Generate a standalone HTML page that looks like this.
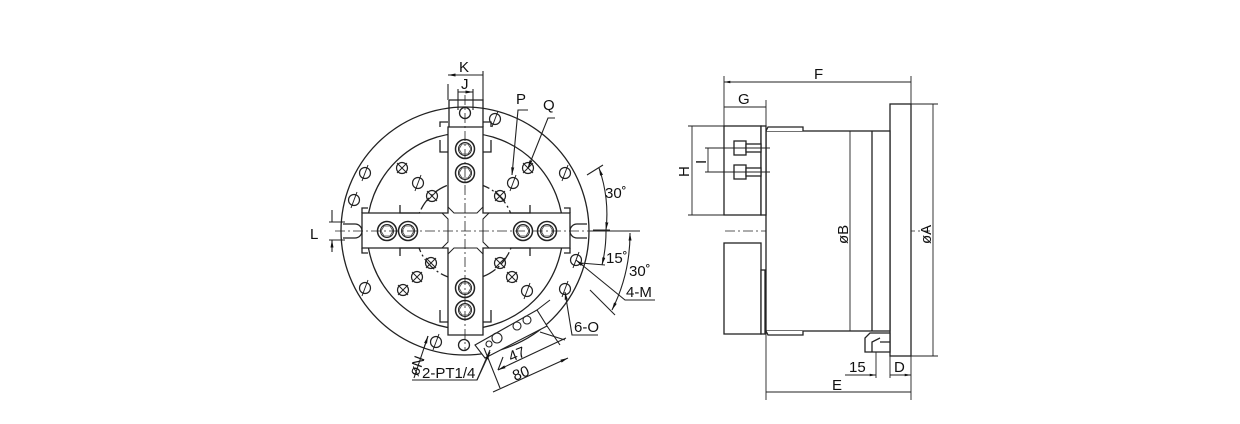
<!DOCTYPE html>
<html><head><meta charset="utf-8"><style>
html,body{margin:0;padding:0;background:#fff;}
svg{display:block}
text{font-family:"Liberation Sans",sans-serif;fill:#111;}
</style></head><body>
<svg width="1240" height="424" viewBox="0 0 1240 424" xmlns="http://www.w3.org/2000/svg">
<defs>
<marker id="a" viewBox="0 0 10 10" refX="10" refY="5" markerWidth="7" markerHeight="7" orient="auto-start-reverse"><path d="M0,3 L10,5 L0,7z" fill="#111"/></marker>
<g id="hx"><circle r="5.5" fill="none" stroke="#222" stroke-width="1.2"/><path d="M-5,-5 L5,5 M-5,5 L5,-5" stroke="#222" stroke-width="1"/></g>
<g id="hs"><circle r="5.5" fill="none" stroke="#222" stroke-width="1.2"/><path d="M-3,8 L3,-8" stroke="#222" stroke-width="1"/></g>
<g id="bt"><circle r="9.5" fill="none" stroke="#222" stroke-width="1.5"/><circle r="6.5" fill="none" stroke="#222" stroke-width="1"/><path d="M-3,-5 L3,-5 L6,0 L3,5 L-3,5 L-6,0z" fill="none" stroke="#444" stroke-width="0.8"/></g>
</defs>
<g fill="none" stroke="#222" stroke-width="1.3">
<circle cx="465" cy="231" r="124"/>
<circle cx="465" cy="231" r="98"/>
<circle cx="465" cy="231" r="49" stroke-dasharray="14,3,2,3"/>
<path d="M448,127 L483,127 L483,213 L570,213 L570,248 L483,248 L483,335 L448,335 L448,248 L362,248 L362,213 L448,213z" fill="#fff"/>
<path d="M449,100 L483,100 L483,127 M449,100 L449,127"/>
<path d="M448,207 L454,213 L477,213 L483,207 M448,254 L454,248 L477,248 L483,254 M442,213 L448,219 L448,242 L442,248 M489,213 L483,219 L483,242 L489,248" stroke-width="1"/>
<path d="M440,140 L440,152 L448,152 M491,140 L491,152 L483,152 M440,310 L440,322 L448,322 M491,310 L491,322 L483,322 M440,127 L440,122 L448,122 M483,122 L491,122 L491,127"/>
<path d="M400,205 L400,213 L420,213 M530,205 L530,213 L510,213 M400,256 L400,248 L420,248 M530,256 L530,248 L510,248"/>
<path d="M362,213 L362,208 L368,208 M570,213 L570,208 L564,208 M362,248 L362,253 L368,253 M570,248 L570,253 L564,253"/>
<path d="M343,224 L355,224 A7,7 0 0 1 355,238 L343,238 M587,224 L577,224 A7,7 0 0 0 577,238 L587,238"/>
</g>
<g stroke="#222" stroke-width="0.8" stroke-dasharray="10,3,2,3" fill="none">
<path d="M335,231 L600,231 M465,95 L465,350"/>
<path d="M725,231 L930,231"/>
</g>
<use href="#bt" x="465" y="149"/><use href="#bt" x="465" y="173"/><use href="#bt" x="465" y="288"/><use href="#bt" x="465" y="310"/>
<use href="#bt" x="387" y="231"/><use href="#bt" x="408" y="231"/><use href="#bt" x="523" y="231"/><use href="#bt" x="547" y="231"/>
<circle cx="465" cy="113" r="5.5" fill="none" stroke="#222" stroke-width="1.3"/><circle cx="464" cy="345" r="5.5" fill="none" stroke="#222" stroke-width="1.3"/>
<use href="#hs" x="365" y="173"/><use href="#hs" x="354" y="200"/><use href="#hs" x="495" y="119"/><use href="#hs" x="565" y="173"/><use href="#hs" x="576" y="260"/><use href="#hs" x="565" y="289"/><use href="#hs" x="365" y="288"/><use href="#hs" x="436" y="342"/>
<use href="#hs" x="418" y="183"/><use href="#hs" x="513" y="183"/><use href="#hs" x="527" y="291"/>
<use href="#hx" x="402" y="168"/><use href="#hx" x="432" y="196"/><use href="#hx" x="528" y="168"/><use href="#hx" x="500" y="196"/><use href="#hx" x="431" y="263"/><use href="#hx" x="417" y="277"/><use href="#hx" x="403" y="290"/><use href="#hx" x="500" y="263"/><use href="#hx" x="512" y="277"/>
<g fill="none" stroke="#222" stroke-width="1.1">
<path d="M475,345 L537,310 L547,326 L485,358z" fill="#fff"/>
<circle cx="497" cy="338" r="5"/><circle cx="517" cy="326" r="4"/><circle cx="527" cy="320" r="4"/><circle cx="489" cy="344" r="3"/>
<path d="M484,348 L500,388 M547,326 L560,345 M537,310 L550,300"/>
<path d="M498,370 L566,338 M493,392 L568,358" marker-end="url(#a)" marker-start="url(#a)"/>
<path d="M503,357 L498,370 M540,332 L565,340"/>
<path d="M448,84 L448,100 M483,71 L483,100 M458,89 L458,110 M473,89 L473,110"/>
<path d="M448,75 L483,75 M458,92 L473,92" marker-end="url(#a)" marker-start="url(#a)"/>
<path d="M329,222 L345,222 M329,240 L345,240"/>
<path d="M332,210 L332,222 M332,252 L332,240" marker-end="url(#a)"/>
<path d="M512,175 L518,110 L528,110" marker-start="url(#a)"/>
<path d="M528,168 L548,118 L555,118" marker-start="url(#a)"/>
<path d="M587,175 L603,165 M593,230 L610,230 M590,231 L640,231"/>
<path d="M599,168 A140,140 0 0 1 606,230" marker-end="url(#a)" marker-start="url(#a)"/>
<path d="M606,231 A140,140 0 0 1 602,265" marker-end="url(#a)"/>
<path d="M580,263 L605,265"/>
<path d="M630,233 A170,170 0 0 1 612,310" marker-end="url(#a)" marker-start="url(#a)"/>
<path d="M590,290 L615,315"/>
<path d="M576,260 L625,300 L655,300" marker-start="url(#a)"/>
<path d="M565,292 L572,335 L598,335" marker-start="url(#a)"/>
<path d="M428,336 L414,378 M412,380 L477,380 L490,350" />
<path d="M428,336 L424,348" marker-start="url(#a)"/>
<path d="M477,380 L490,352" marker-end="url(#a)"/>
</g>
<g font-size="15">
<text x="459" y="72">K</text><text x="461" y="89">J</text>
<text x="310" y="239">L</text>
<text x="516" y="104">P</text><text x="543" y="110">Q</text>
<text x="605" y="198">30˚</text><text x="606" y="263">15˚</text><text x="629" y="276">30˚</text>
<text x="626" y="297">4-M</text><text x="574" y="332">6-O</text>
<text x="422" y="378">2-PT1/4</text>
<text x="511" y="362" transform="rotate(-22 511 362)">47</text>
<text x="515" y="381" transform="rotate(-22 515 381)">80</text>
<text x="418" y="377" transform="rotate(-70 418 377)">øN</text>
</g>
<g fill="#fff" stroke="#222" stroke-width="1.3">
<rect x="890" y="104" width="21" height="252"/>
<rect x="766" y="131" width="124" height="200"/>
<path d="M872,131 L872,331"/>
<path d="M766,131 L768,127 L803,127 L803,131 M766,331 L768,335 L803,335 L803,331"/>
<rect x="724" y="126" width="37" height="89"/>
<rect x="724" y="243" width="37" height="91"/>
<rect x="761" y="126" width="5" height="89"/><rect x="761" y="270" width="4" height="64"/>
<rect x="734" y="141" width="12" height="14"/><rect x="734" y="165" width="12" height="14"/>
<rect x="746" y="144" width="15" height="8"/><rect x="746" y="168" width="15" height="8"/>
<path d="M865,352 L865,338 L870,333 L890,333 L890,352z"/>
<path d="M872,352 L872,342 L880,338 M880,342 L890,342"/>
</g>
<g fill="none" stroke="#222" stroke-width="0.9">
<path d="M724,76 L724,126 M911,76 L911,104 M766,100 L766,400 M911,356 L911,400 M688,126 L724,126 M688,215 L724,215 M705,148 L770,148 M705,172 L770,172 M911,104 L938,104 M911,356 L938,356 M876,352 L876,378 M890,356 L890,378"/>
<path d="M724,82 L911,82 M724,107 L766,107 M692,126 L692,215 M708,148 L708,172 M850,131 L850,331 M933,104 L933,356 M766,392 L911,392 M890,375 L911,375" marker-end="url(#a)" marker-start="url(#a)"/>
<path d="M845,375 L876,375" marker-end="url(#a)"/>
</g>
<g font-size="15">
<text x="814" y="79">F</text><text x="738" y="104">G</text>
<text x="689" y="177" transform="rotate(-90 689 177)">H</text>
<text x="706" y="164" transform="rotate(-90 706 164)">I</text>
<text x="848" y="244" transform="rotate(-90 848 244)">øB</text>
<text x="931" y="244" transform="rotate(-90 931 244)">øA</text>
<text x="849" y="372">15</text><text x="894" y="372">D</text>
<text x="832" y="390">E</text>
</g>
</svg>
</body></html>
